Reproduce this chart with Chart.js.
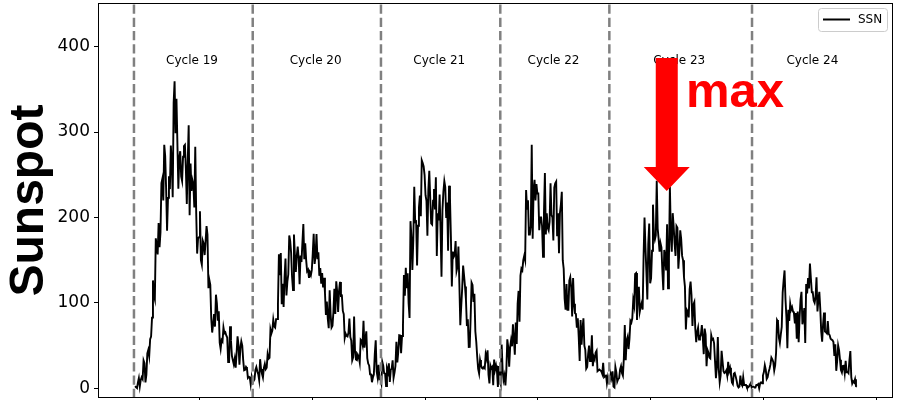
<!DOCTYPE html>
<html>
<head>
<meta charset="utf-8">
<script src="https://cdn.jsdelivr.net/npm/chart.js@4/dist/chart.umd.min.js"></script>
<style>
  html, body { margin: 0; padding: 0; background: #fff; overflow: hidden; }
  canvas { display: block; }
</style>
</head>
<body>
<canvas id="ssnChart" width="905" height="400"></canvas>
<script>
// Monthly mean sunspot number (SSN), first value is April 1954
const FIRST_YEAR = 1954;
const FIRST_MONTH = 4;

const SSN_1954_1959 = [
  2.5, 1.1, 0.3, 6.8, 11.9, 2.1, 9.9, 13.0, 10.8,
  32.7, 29.5, 6.9, 16.0, 40.9, 44.9, 37.8, 57.6, 60.5, 82.8, 126.3, 108.9,
  104.2, 175.6, 167.7, 156.8, 193.4, 165.1, 182.8, 240.2, 245.3, 219.9, 285.0, 272.0,
  233.6, 184.4, 222.9, 248.1, 233.1, 284.2, 265.1, 223.7, 333.9, 359.4, 298.6, 339.0,
  286.7, 233.5, 270.0, 277.5, 248.2, 242.8, 271.0, 283.5, 284.9, 257.0, 215.7, 265.6,
  307.8, 202.6, 263.0, 231.2, 243.6, 238.9, 211.8, 282.6, 205.6, 157.7, 175.6, 177.0
];
const SSN_1960s = [
  207.2, 150.1, 144.7, 172.8, 169.4, 156.0, 172.3, 189.9, 180.1, 117.2, 126.9, 121.2,
  82.0, 65.3, 75.0, 86.9, 72.2, 109.6, 99.4, 79.2, 90.1, 53.4, 46.2, 56.5,
  54.8, 71.2, 64.6, 65.7, 61.9, 59.5, 30.9, 30.9, 72.6, 55.9, 38.1, 32.9,
  28.0, 34.6, 24.2, 41.5, 60.9, 50.8, 27.8, 47.0, 54.9, 50.0, 33.1, 21.1,
  21.7, 25.1, 23.4, 12.2, 13.5, 12.9, 4.4, 13.2, 6.7, 8.6, 10.5, 21.4,
  24.8, 20.1, 16.6, 9.6, 34.1, 22.5, 16.9, 12.6, 23.8, 28.5, 22.4, 24.1,
  39.9, 34.6, 35.8, 69.0, 64.1, 67.5, 80.3, 72.5, 71.1, 81.0, 81.0, 99.7,
  157.0, 132.5, 158.3, 98.4, 122.5, 95.3, 129.6, 151.8, 108.7, 124.9, 133.5, 179.0,
  172.5, 158.5, 130.6, 115.0, 180.1, 156.2, 136.1, 154.8, 166.0, 152.5, 121.8, 155.5,
  147.8, 170.6, 192.3, 151.2, 169.9, 150.1, 137.1, 138.8, 129.3, 135.5, 132.4, 138.6
];
const SSN_1970s = [
  157.9, 181.0, 145.7, 155.1, 180.5, 151.2, 159.3, 131.7, 140.9, 122.6, 134.8, 118.2,
  129.3, 111.9, 86.0, 101.7, 81.4, 70.5, 114.7, 86.9, 71.1, 73.2, 89.5, 116.4,
  87.1, 125.2, 113.4, 89.5, 114.0, 124.6, 108.3, 108.7, 90.6, 86.8, 58.9, 64.1,
  61.5, 60.7, 65.1, 81.7, 60.0, 55.9, 32.7, 36.2, 84.0, 43.5, 33.8, 33.0,
  39.1, 36.8, 30.2, 57.1, 55.9, 51.0, 79.0, 47.6, 56.9, 66.7, 35.4, 29.0,
  26.8, 16.3, 16.3, 7.2, 12.7, 16.1, 39.9, 56.2, 19.7, 12.9, 27.5, 11.0,
  11.5, 6.1, 31.0, 26.6, 17.6, 17.3, 2.7, 23.2, 19.1, 29.2, 7.4, 21.7,
  23.2, 32.7, 12.3, 18.3, 26.3, 54.5, 30.3, 42.6, 62.3, 62.0, 41.2, 61.2,
  73.5, 132.5, 108.3, 141.2, 117.1, 134.7, 99.7, 82.3, 195.7, 177.1, 138.6, 173.7,
  235.9, 194.7, 195.4, 143.7, 190.3, 211.7, 225.7, 201.4, 266.8, 263.7, 259.6, 249.6
];
const SSN_1980s = [
  226.0, 219.5, 178.7, 232.4, 254.7, 222.7, 193.0, 191.7, 219.5, 233.2, 209.4, 247.0,
  155.0, 204.9, 196.5, 226.8, 184.9, 130.5, 208.5, 230.1, 242.6, 235.5, 199.4, 217.6,
  161.2, 237.2, 223.0, 176.9, 119.2, 160.1, 153.8, 156.0, 172.3, 137.3, 142.2, 166.0,
  122.2, 74.0, 96.4, 117.0, 143.8, 132.1, 119.2, 104.1, 72.9, 80.9, 48.3, 48.4,
  82.7, 123.8, 121.1, 101.1, 110.8, 66.8, 54.2, 37.0, 22.8, 17.4, 33.1, 27.1,
  23.9, 23.1, 24.9, 23.5, 39.9, 35.1, 44.5, 16.1, 5.7, 27.0, 23.5, 25.1,
  3.6, 33.6, 21.9, 26.8, 19.9, 1.6, 26.2, 10.7, 5.5, 51.3, 22.0, 9.9,
  15.1, 3.5, 21.3, 57.4, 47.9, 25.2, 47.9, 56.1, 49.2, 75.0, 57.9, 39.3,
  77, 52, 99, 114, 78, 132, 140, 138, 150, 155, 150, 232,
  210, 220, 180, 180, 190, 285, 175, 233, 244, 220, 239, 228
];
const SSN_1990s = [
  228, 185, 200, 200, 190, 154, 205, 252, 180, 205, 188, 185,
  195, 240, 203, 200, 173, 235, 240, 242, 178, 205, 158, 205,
  215, 230, 150, 140, 105, 92, 122, 92, 92, 126, 130, 118,
  84, 129, 99, 88, 87, 71, 82, 60, 32, 80, 51, 69,
  82, 50, 45, 23, 25, 40, 50, 32, 36, 62, 26, 37,
  34, 42, 44, 20, 21, 22, 21, 20, 17, 30, 13, 14,
  16, 6, 13, 7, 8, 17, 12, 20, 2, 1, 25, 19,
  8, 11, 12, 22, 26, 18, 15, 35, 74, 33, 56, 60,
  46, 58, 79, 77, 82, 103, 97, 134, 135, 80, 107, 119,
  90, 96, 100, 92, 154, 200, 165, 136, 104, 169, 193, 123
];
const SSN_2000s = [
  129, 161, 215, 180, 174, 179, 243, 187, 175, 160, 170, 165,
  137, 115, 162, 154, 138, 192, 117, 152, 236, 180, 160, 205,
  190, 170, 155, 190, 188, 140, 158, 185, 175, 155, 150, 130,
  119, 69, 92, 90, 83, 116, 125, 109, 73, 98, 101, 70,
  54, 66, 71, 57, 60, 63, 74, 59, 40, 70, 63, 26,
  45, 42, 36, 35, 62, 57, 58, 53, 32, 12, 26, 60,
  22, 7, 15, 44, 32, 20, 18, 19, 21, 15, 31, 20,
  24, 16, 7, 5, 17, 18, 14, 9, 3, 1, 2, 15,
  5, 3, 13, 4, 4, 4, 1, 1, 2, 4, 6, 1,
  2, 2, 1, 1, 4, 4, 5, 0, 6, 7, 6, 15
];
const SSN_2010s = [
  19, 27, 22, 11, 13, 19, 23, 28, 36, 34, 31, 21,
  27, 42, 80, 78, 59, 53, 63, 72, 112, 126, 138, 104,
  83, 47, 92, 79, 99, 92, 95, 90, 88, 76, 88, 58,
  90, 54, 83, 104, 113, 75, 82, 94, 53, 122, 111, 129,
  117.0, 146.1, 128.7, 112.5, 112.5, 102.9, 100.2, 106.9, 130.0, 90.0, 103.6, 112.9,
  93.0, 66.7, 54.5, 75.3, 88.8, 66.5, 65.8, 64.4, 78.6, 63.6, 62.2, 58.0,
  57.0, 56.4, 54.1, 37.9, 51.5, 20.5, 32.4, 50.2, 44.6, 33.4, 21.4, 18.5,
  26.1, 26.4, 17.7, 32.3, 18.9, 19.2, 17.8, 32.6, 43.7, 13.2, 5.7, 8.2,
  6.8, 10.7, 2.5, 2.0
];

// Axis ticks
const YEAR_TICKS = [1960, 1970, 1980, 1990, 2000, 2010, 2020];
const SSN_TICKS = [0, 100, 200, 300, 400];

// Solar cycle boundaries (decimal years) and their labels
const CYCLE_STARTS = [1954.19, 1964.72, 1976.09, 1986.67, 1996.34, 2008.99];
const CYCLE_NAMES = ['Cycle 19', 'Cycle 20', 'Cycle 21', 'Cycle 22', 'Cycle 23', 'Cycle 24'];
const CYCLE_LABEL_YEARS = [1959.34, 1970.3, 1981.26, 1991.39, 2002.54, 2014.34];
const CYCLE_LABEL_LEVEL = 379.6;

// Annotation marking the maximum of cycle 23
const PEAK_ARROW = { year: 2001.43, from: 386.6, to: 231 };
const PEAK_TEXT = { text: 'max', year: 2003.14, level: 329.3 };

const ssnValues = [].concat(SSN_1954_1959, SSN_1960s, SSN_1970s, SSN_1980s,
                            SSN_1990s, SSN_2000s, SSN_2010s);
const ssnPoints = ssnValues.map((v, i) => ({
  x: FIRST_YEAR + (FIRST_MONTH - 1 + i + 0.5) / 12,
  y: v
}));

const decorPlugin = {
  id: 'decor',
  afterDatasetsDraw(chart) {
    const { ctx, chartArea: ca, scales: { x: xs, y: ys } } = chart;
    ctx.save();

    // dashed cycle boundaries
    ctx.beginPath();
    ctx.rect(ca.left, ca.top, ca.right - ca.left, ca.bottom - ca.top);
    ctx.clip();
    ctx.strokeStyle = '#808080';
    ctx.lineWidth = 2.5;
    ctx.setLineDash([9.25, 4]);
    CYCLE_STARTS.forEach(v => {
      const px = xs.getPixelForValue(v);
      ctx.beginPath();
      ctx.moveTo(px, ca.bottom);
      ctx.lineTo(px, ca.top);
      ctx.stroke();
    });
    ctx.setLineDash([]);

    // cycle names
    ctx.fillStyle = '#000';
    ctx.font = '12px "DejaVu Sans"';
    ctx.textAlign = 'center';
    ctx.textBaseline = 'alphabetic';
    CYCLE_NAMES.forEach((name, i) => {
      ctx.fillText(name, xs.getPixelForValue(CYCLE_LABEL_YEARS[i]), ys.getPixelForValue(CYCLE_LABEL_LEVEL));
    });

    // red arrow pointing at the cycle 23 maximum
    const cx = xs.getPixelForValue(PEAK_ARROW.year);
    const tailY = ys.getPixelForValue(PEAK_ARROW.from);
    const tipY = ys.getPixelForValue(PEAK_ARROW.to);
    const shaft = 11, head = 23, headLen = 24;
    ctx.fillStyle = '#ff0000';
    ctx.beginPath();
    ctx.moveTo(cx - shaft, tailY);
    ctx.lineTo(cx + shaft, tailY);
    ctx.lineTo(cx + shaft, tipY - headLen);
    ctx.lineTo(cx + head, tipY - headLen);
    ctx.lineTo(cx, tipY);
    ctx.lineTo(cx - head, tipY - headLen);
    ctx.lineTo(cx - shaft, tipY - headLen);
    ctx.closePath();
    ctx.fill();

    ctx.font = 'bold 49px "Liberation Sans", Arial, sans-serif';
    ctx.textAlign = 'left';
    ctx.fillText(PEAK_TEXT.text, xs.getPixelForValue(PEAK_TEXT.year), ys.getPixelForValue(PEAK_TEXT.level));
    ctx.restore();

    // axes frame
    ctx.save();
    ctx.strokeStyle = '#000';
    ctx.lineWidth = 1;
    ctx.strokeRect(Math.round(ca.left) - 0.5, Math.round(ca.top) + 0.5,
                   Math.round(ca.right - ca.left), Math.round(ca.bottom - ca.top) - 1);

    // legend
    const bx = ca.right - 75, by = ca.top + 5, bw = 69, bh = 23;
    ctx.beginPath();
    ctx.roundRect(bx + 0.5, by + 0.5, bw, bh, 3);
    ctx.fillStyle = 'rgba(255,255,255,0.8)';
    ctx.fill();
    ctx.strokeStyle = '#cccccc';
    ctx.stroke();
    const ds = chart.data.datasets[0];
    ctx.strokeStyle = ds.borderColor;
    ctx.lineWidth = 2;
    ctx.beginPath();
    ctx.moveTo(bx + 5, by + 11.5);
    ctx.lineTo(bx + 32, by + 11.5);
    ctx.stroke();
    ctx.fillStyle = '#000';
    ctx.font = '12px "DejaVu Sans"';
    ctx.textAlign = 'left';
    ctx.textBaseline = 'middle';
    ctx.fillText(ds.label, bx + 40, by + 12);
    ctx.restore();
  }
};

new Chart(document.getElementById('ssnChart'), {
  type: 'line',
  data: {
    datasets: [{
      label: 'SSN',
      data: ssnPoints,
      borderColor: '#000000',
      borderWidth: 1.9,
      pointRadius: 0,
      tension: 0,
      fill: false
    }]
  },
  options: {
    responsive: false,
    animation: false,
    devicePixelRatio: 1,
    layout: { padding: { left: 0, top: 3, right: 12, bottom: 0 } },
    plugins: {
      legend: { display: false },
      tooltip: { enabled: false }
    },
    scales: {
      x: {
        type: 'linear',
        min: 1951.09,
        max: 2021.49,
        afterBuildTicks: s => { s.ticks = YEAR_TICKS.map(v => ({ value: v })); },
        afterFit: s => { s.height = 2; s.paddingLeft = 0; s.paddingRight = 0; },
        ticks: { display: false },
        border: { display: false },
        grid: { drawOnChartArea: false, drawTicks: true, tickLength: 5, color: '#000', lineWidth: 1 }
      },
      y: {
        type: 'linear',
        min: -11.3,
        max: 451,
        afterBuildTicks: s => { s.ticks = SSN_TICKS.map(v => ({ value: v })); },
        afterFit: s => { s.width = 99; s.paddingTop = 0; s.paddingBottom = 0; },
        ticks: {
          color: '#000',
          padding: 4,
          font: { family: 'DejaVu Sans', size: 17 },
          callback: v => String(v)
        },
        border: { display: false },
        grid: { drawOnChartArea: false, drawTicks: true, tickLength: 5, color: '#000', lineWidth: 1 },
        title: {
          display: true,
          text: 'Sunspot',
          color: '#000',
          font: { family: 'Liberation Sans', size: 48, weight: 'bold' },
          padding: { top: 1, bottom: 0 }
        }
      }
    }
  },
  plugins: [decorPlugin]
});
</script>
</body>
</html>
